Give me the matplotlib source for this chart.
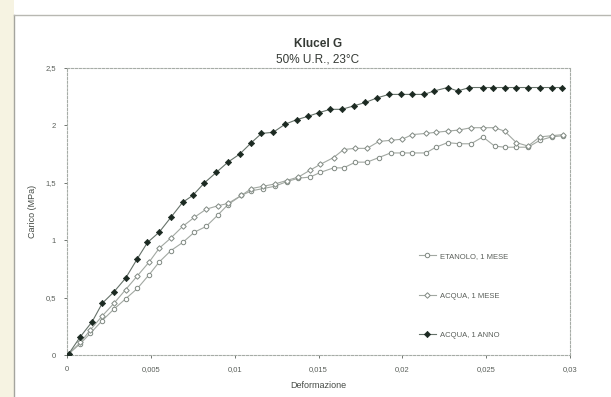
import matplotlib
matplotlib.use("Agg")
import matplotlib.pyplot as plt
from matplotlib.lines import Line2D

plt.rcParams['font.family'] = ['Liberation Sans', 'DejaVu Sans']

# Data (strain, load in MPa)
x_anno = [0.0001, 0.0008, 0.0015, 0.0021, 0.0028, 0.0035, 0.0042, 0.0048, 0.0055, 0.0062,
          0.0069, 0.0075, 0.0082, 0.0089, 0.0096, 0.0103, 0.0110, 0.0116, 0.0123, 0.0130,
          0.0137, 0.0144, 0.0150, 0.0157, 0.0164, 0.0171, 0.0178, 0.0185, 0.0192, 0.0199,
          0.0206, 0.0213, 0.0219, 0.0227, 0.0233, 0.0240, 0.0248, 0.0254, 0.0261, 0.0268,
          0.0275, 0.0282, 0.0289, 0.0295]
y_acqua_anno = [0.01, 0.16, 0.29, 0.45, 0.55, 0.67, 0.84, 0.98, 1.07, 1.20,
                1.33, 1.39, 1.50, 1.59, 1.68, 1.75, 1.85, 1.93, 1.94, 2.01,
                2.05, 2.08, 2.11, 2.14, 2.14, 2.17, 2.20, 2.24, 2.27, 2.27,
                2.27, 2.27, 2.30, 2.33, 2.30, 2.33, 2.33, 2.33, 2.33, 2.33,
                2.33, 2.33, 2.33, 2.33]

x_mese = [0.0001, 0.0008, 0.0014, 0.0021, 0.0028, 0.0035, 0.0042, 0.0049, 0.0055, 0.0062,
          0.0069, 0.0076, 0.0083, 0.0090, 0.0096, 0.0104, 0.0110, 0.0117, 0.0124, 0.0131,
          0.0138, 0.0145, 0.0151, 0.0159, 0.0165, 0.0172, 0.0179, 0.0186, 0.0193, 0.0200,
          0.0206, 0.0214, 0.0220, 0.0227, 0.0234, 0.0241, 0.0248, 0.0255, 0.0261, 0.0268,
          0.0275, 0.0282, 0.0289, 0.0296]
y_acqua_mese = [0.01, 0.11, 0.22, 0.34, 0.45, 0.57, 0.69, 0.81, 0.93, 1.02,
                1.12, 1.20, 1.27, 1.30, 1.32, 1.39, 1.45, 1.47, 1.49, 1.52,
                1.55, 1.61, 1.66, 1.72, 1.79, 1.80, 1.80, 1.86, 1.87, 1.88,
                1.92, 1.93, 1.94, 1.95, 1.96, 1.98, 1.98, 1.98, 1.95, 1.85,
                1.82, 1.90, 1.91, 1.92]
y_etanolo_mese = [0.01, 0.10, 0.19, 0.30, 0.40, 0.49, 0.58, 0.70, 0.81, 0.91,
                  0.98, 1.07, 1.12, 1.22, 1.31, 1.39, 1.43, 1.45, 1.47, 1.51,
                  1.54, 1.55, 1.59, 1.63, 1.63, 1.68, 1.68, 1.72, 1.76, 1.76,
                  1.76, 1.76, 1.81, 1.85, 1.84, 1.84, 1.90, 1.82, 1.81, 1.81,
                  1.81, 1.87, 1.90, 1.91]

xticks = [0, 0.005, 0.01, 0.015, 0.02, 0.025, 0.03]
xticklabels = ['0', '0,005', '0,01', '0,015', '0,02', '0,025', '0,03']
yticks = [0, 0.5, 1, 1.5, 2, 2.5]
yticklabels = ['0', '0,5', '1', '1,5', '2', '2,5']

W, H = 611, 397
fig = plt.figure(figsize=(W / 100, H / 100), dpi=100)
fig.patch.set_facecolor('white')

# scanned page background details
fig.add_artist(plt.Rectangle((0, 0), 14 / W, 1, transform=fig.transFigure,
                             facecolor='#f6f3e2', edgecolor='none', zorder=0))
fig.add_artist(Line2D([14 / W, 14 / W], [0, 1 - 15 / H], transform=fig.transFigure,
                      color='#a4a49e', lw=1.0))
fig.add_artist(Line2D([14 / W, 1], [1 - 15 / H, 1 - 15 / H], transform=fig.transFigure,
                      color='#b8b8b2', lw=1.0))

ax = fig.add_axes([67 / W, 1 - 355 / H, (570 - 67) / W, (355 - 68) / H])
ax.set_facecolor('white')

line_grey = '#a2a8a2'
edge_grey = '#7f8881'
dark = '#1c2a22'

ax.plot(x_mese, y_etanolo_mese, color=line_grey, lw=0.8, marker='o', ms=3.2,
        mfc='white', mec=edge_grey, mew=0.7, label='ETANOLO, 1 MESE', zorder=3)
ax.plot(x_mese, y_acqua_mese, color=line_grey, lw=0.8, marker='D', ms=2.8,
        mfc='white', mec=edge_grey, mew=0.7, label='ACQUA, 1 MESE', zorder=3)
ax.plot(x_anno, y_acqua_anno, color='#66726a', lw=0.8, marker='D', ms=3.2,
        mfc=dark, mec=dark, mew=0.5, label='ACQUA, 1 ANNO', zorder=4)

ax.set_xlim(0, 0.03)
ax.set_ylim(0, 2.5)
ax.set_xticks(xticks)
ax.set_xticklabels(xticklabels)
ax.set_yticks(yticks)
ax.set_yticklabels(yticklabels)
ax.tick_params(labelsize=5.5, colors='#5a5f5a', length=2, width=0.6, pad=6)

for s in ax.spines.values():
    s.set_color('#a6aca6')
    s.set_linewidth(0.8)
    s.set_linestyle((0, (2, 1.5)))

ax.set_xlabel('Deformazione', fontsize=6.5, color='#464b46', labelpad=6)
ax.set_ylabel('Carico (MPa)', fontsize=6.5, color='#464b46', labelpad=6)

fig.text(318 / W, 1 - 44 / H, 'Klucel G', ha='center', va='center',
         fontsize=8.5, fontweight='bold', color='#353a35')
fig.text(318 / W, 1 - 60 / H, '50% U.R., 23°C', ha='center', va='center',
         fontsize=8.5, color='#353a35')

leg = ax.legend(loc='upper left', bbox_to_anchor=(415 / W, 1 - 249 / H),
                bbox_transform=fig.transFigure, frameon=False, fontsize=5.5,
                labelspacing=4.2, handlelength=2.2, handletextpad=0.6,
                borderpad=0)
for t in leg.get_texts():
    t.set_color('#5a5f5a')

fig.savefig('out.png', dpi=100, facecolor=fig.get_facecolor())
